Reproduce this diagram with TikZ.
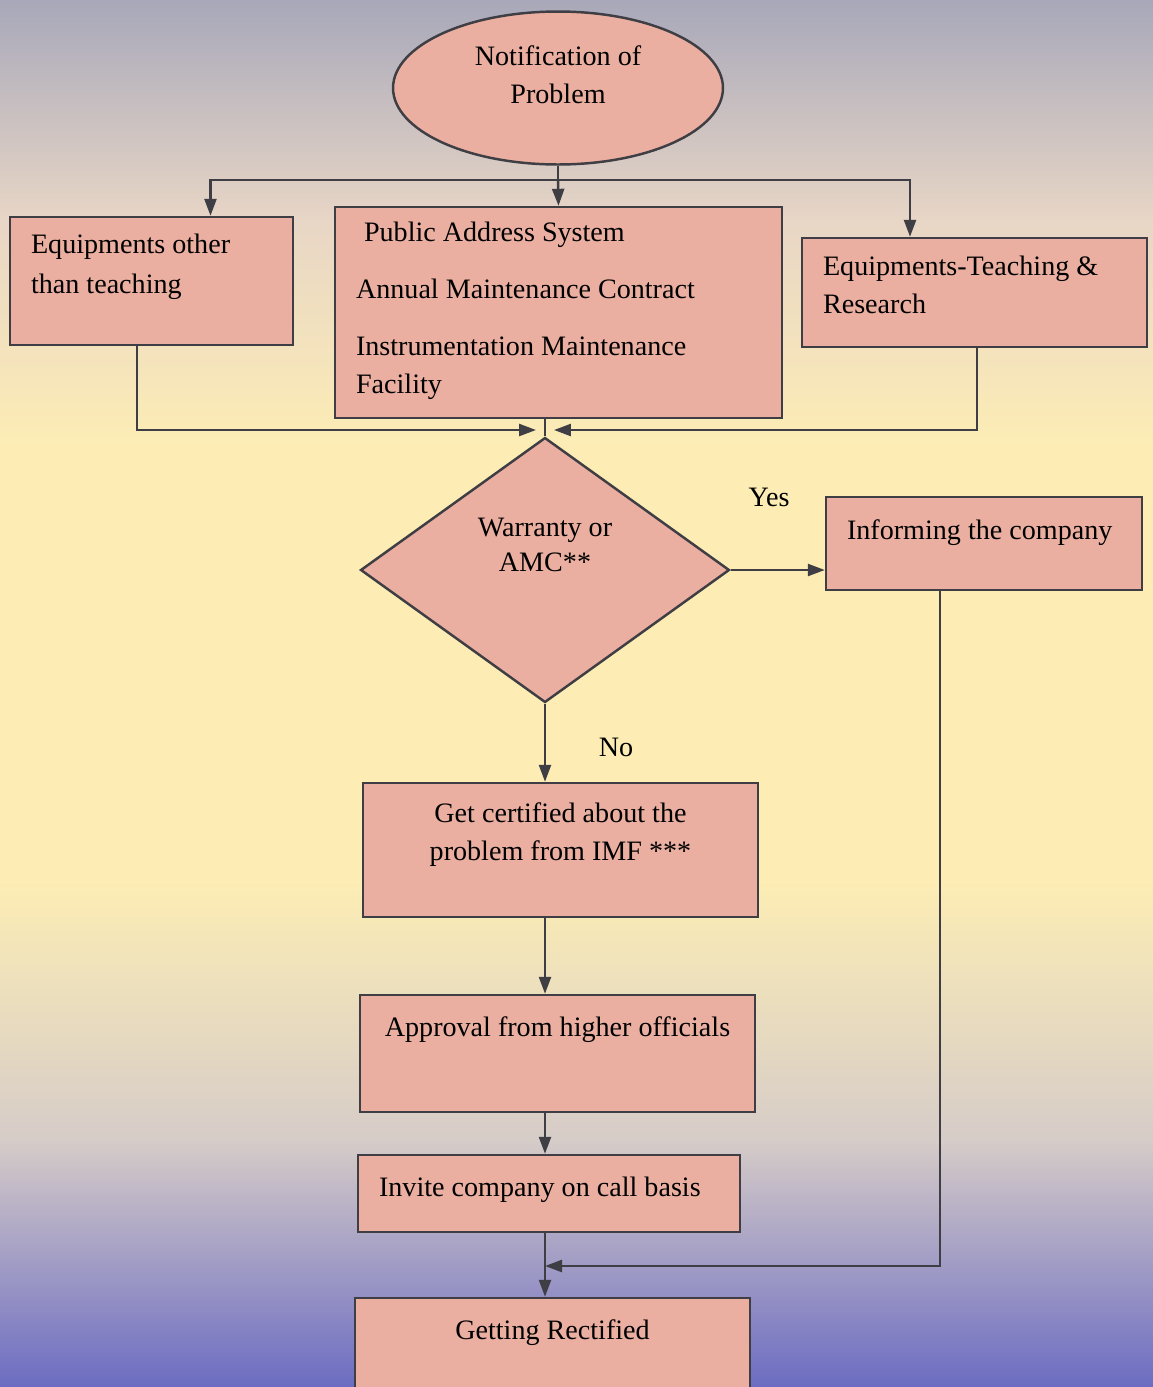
\documentclass[tikz,border=0pt]{standalone}
\usepackage{fontspec}
\setmainfont{Liberation Serif}
\usetikzlibrary{shapes.geometric,arrows.meta}

\definecolor{linegray}{RGB}{62,62,68}
\definecolor{boxfill}{RGB}{234,175,160}
\definecolor{bgtop}{RGB}{168,168,186}
\definecolor{bgpeach}{RGB}{232,214,198}
\definecolor{bgyellow}{RGB}{253,237,180}
\definecolor{bggray}{RGB}{214,204,200}
\definecolor{bgblue}{RGB}{108,108,194}

\newcommand{\boxtext}[3]{\parbox[c][#2][t]{#1}{#3}}

\tikzset{
	box/.style={draw=linegray, fill=boxfill, line width=1.4pt, inner xsep=0.42cm, inner ysep=0.3cm},
	startnode/.style={ellipse, draw=linegray, fill=boxfill, line width=1.4pt, inner sep=0pt},
	decision/.style={diamond, draw=linegray, fill=boxfill, line width=1.4pt, inner sep=0pt},
	link/.style={draw=linegray, line width=1.4pt},
	flow/.style={link, -{Triangle[length=0.34cm,width=0.24cm]}}
}

\begin{document}
\begin{tikzpicture}[x=0.02cm, y=-0.02cm, font=\fontsize{16}{21.6}\selectfont]

		% background
		\useasboundingbox (0,0) rectangle (1153,1387);
		\shade	[top color=bgtop, bottom color=bgpeach] (0,0) rectangle (1153,221);
		\shade	[top color=bgpeach, bottom color=bgyellow] (0,220) rectangle (1153,451);
		\fill	[bgyellow] (0,450) rectangle (1153,881);
		\shade	[top color=bgyellow, bottom color=bggray] (0,880) rectangle (1153,1141);
		\shade	[top color=bggray, bottom color=bgblue] (0,1140) rectangle (1153,1387);

		% start and decision
		\node	[startnode, minimum width=6.6cm, minimum height=3.06cm,
				label={[yshift=0.26cm, align=center]center:Notification of\\Problem}]
				(prob) at (558,88) {};
		\node	[decision, minimum width=7.38cm, minimum height=5.3cm,
				label={[yshift=0.5cm, align=center, font=\fontsize{16}{19.5}\selectfont]center:Warranty or\\AMC**}]
				(dia) at (545,570) {};

		% boxes
		\node	[box] (other) at (151.5,281)
				{\boxtext{4.82cm}{1.96cm}{\raggedright\vspace*{0.04cm}Equipments other\\[0.04cm]than teaching}};
		\node	[box] (pas) at (558.5,312.5)
				{\boxtext{8.1cm}{3.62cm}{\raggedright\hspace*{0.16cm}Public Address System\\[0.38cm]Annual Maintenance Contract\\[0.38cm]Instrumentation Maintenance\\Facility}};
		\node	[box] (teach) at (974.5,292.5)
				{\boxtext{6.06cm}{1.58cm}{\raggedright\vspace*{0.06cm}Equipments-Teaching \&\\Research}};
		\node	[box] (inform) at (984,543.5)
				{\boxtext{5.48cm}{1.26cm}{\raggedright\vspace*{0.16cm}Informing the company}};
		\node	[box] (cert) at (560.5,850)
				{\boxtext{7.06cm}{2.08cm}{\centering\vspace*{0.1cm}Get certified about the\\problem from IMF ***}};
		\node	[box] (appr) at (557.5,1053.5)
				{\boxtext{7.06cm}{1.74cm}{\centering\vspace*{0.14cm}Approval from higher officials}};
		\node	[box] (invite) at (549,1193.5)
				{\boxtext{6.8cm}{0.94cm}{\raggedright\vspace*{0.14cm}Invite company on call basis}};
		\node	[box] (rect) at (552.5,1348)
				{\boxtext{7.06cm}{1.4cm}{\centering\vspace*{0.14cm}Getting Rectified}};

		% labels
		\node	(yes) at (769,497) {Yes};
		\node	(no) at (616,747) {No};

		% connectors
		\coordinate (split) at (558,180);
		\coordinate (merge) at (545,430);
		\coordinate (join) at (545,1266);

		\draw	[link] (prob.south) -- (split);
		\draw	[flow] (split) -| ([xshift=1.18cm]other.north);
		\draw	[flow] (split) -- (pas.north);
		\draw	[flow] (split) -| ([xshift=-1.29cm]teach.north);

		\draw	[flow] ([xshift=-0.29cm]other.south) |- ([xshift=-0.18cm]merge);
		\draw	[flow] ([xshift=0.05cm]teach.south) |- ([xshift=0.18cm]merge);
		\draw	[link] (pas.south -| merge) -- (dia.north);

		\draw	[flow] (dia.east) -- (dia.east -| inform.west);		% yes
		\draw	[flow] (dia.south) -- (dia.south |- cert.north);	% no
		\draw	[flow] (cert.south -| dia.south) -- (appr.north -| dia.south);
		\draw	[flow] (appr.south -| dia.south) -- (invite.north -| dia.south);
		\draw	[flow] (invite.south -| dia.south) -- (rect.north -| dia.south);
		\draw	[flow] ([xshift=-0.88cm]inform.south) |- (join);	% back from company
	\end{tikzpicture}
\end{document}
